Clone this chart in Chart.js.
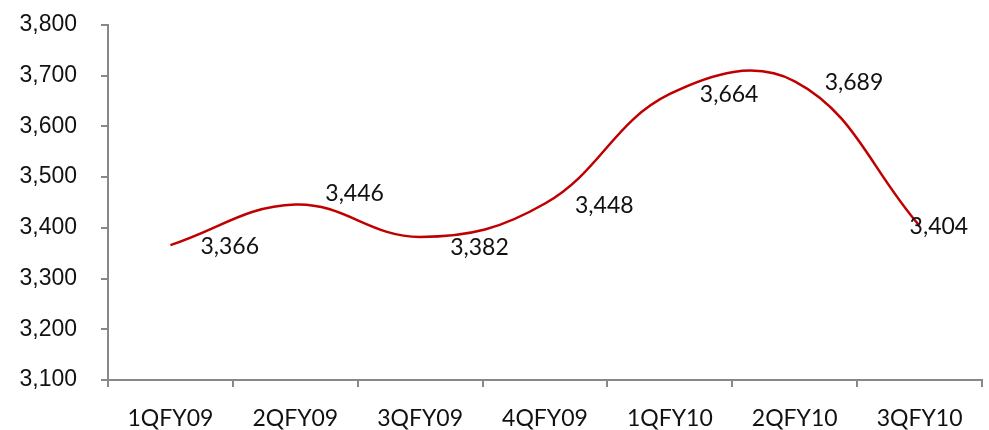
<!DOCTYPE html>
<html>
<head>
<meta charset="utf-8">
<script src="https://cdn.jsdelivr.net/npm/chart.js@4/dist/chart.umd.min.js"></script>
<style>
html,body{margin:0;padding:0;background:#fff;}
#wrap{width:989px;height:430px;}
</style>
</head>
<body>
<div id="wrap"><canvas id="c" width="989" height="430"></canvas></div>
<script>
const categories = ['1QFY09','2QFY09','3QFY09','4QFY09','1QFY10','2QFY10','3QFY10'];
const values = [3366, 3446, 3382, 3448, 3664, 3689, 3404];
const yMin = 3100, yMax = 3800, yStep = 100;

const labelFont = '23px Lato';
// label placement relative to each point (styling, not data)
const labelDx = [30, 30, 30, 30, 30, 30, -10];
const labelDy = [1, -11, 11, 2, 1, 1, 1];

const dataLabels = {
  id: 'dataLabels',
  afterDatasetsDraw(chart) {
    const ctx = chart.ctx;
    const meta = chart.getDatasetMeta(0);
    ctx.save();
    ctx.font = labelFont;
    ctx.fillStyle = '#111';
    ctx.textAlign = 'left';
    ctx.textBaseline = 'middle';
    meta.data.forEach((pt, i) => {
      const v = values[i].toLocaleString('en-US');
      ctx.fillText(v, pt.x + labelDx[i], pt.y + labelDy[i]);
    });
    ctx.restore();
  }
};

new Chart(document.getElementById('c'), {
  type: 'line',
  data: {
    labels: categories,
    datasets: [{
      data: values,
      borderColor: '#C00000',
      borderWidth: 2.5,
      pointRadius: 0,
      tension: 0.4,
      fill: false
    }]
  },
  options: {
    responsive: false,
    animation: false,
    layout: { padding: { left: 0, right: 7, top: 25, bottom: 0 } },
    plugins: { legend: { display: false }, tooltip: { enabled: false } },
    scales: {
      x: {
        offset: true,
        grid: { offset: true, drawOnChartArea: false, drawTicks: true, tickLength: 7, color: '#888', lineWidth: 2 },
        border: { color: '#888', width: 2 },
        ticks: { color: '#111', font: { family: 'Lato', size: 23 }, padding: 18, maxRotation: 0, autoSkip: false },
        afterFit(s) { s.height = 50; s.paddingLeft = 0; s.paddingRight = 0; }
      },
      y: {
        min: yMin, max: yMax,
        grid: { drawOnChartArea: false, drawTicks: true, tickLength: 7, color: '#888', lineWidth: 2 },
        border: { color: '#888', width: 2 },
        ticks: {
          stepSize: yStep, color: '#111', padding: 24,
          font: { family: 'Liberation Sans', size: 23 },
          callback: v => v.toLocaleString('en-US')
        },
        afterFit(s) { s.width = 108; s.paddingTop = 0; s.paddingBottom = 0; }
      }
    }
  },
  plugins: [dataLabels]
});
</script>
</body>
</html>
